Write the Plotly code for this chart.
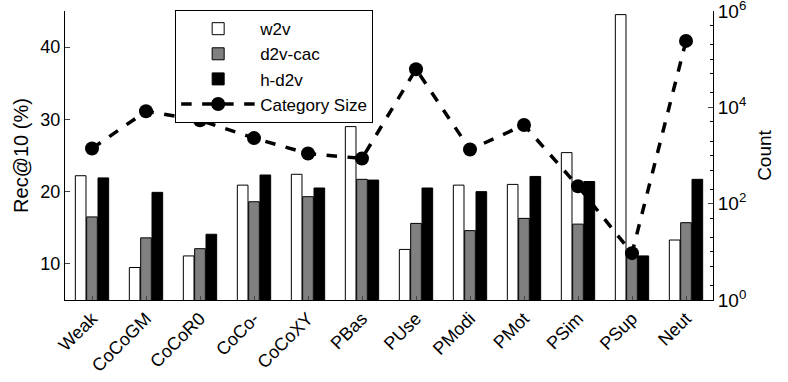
import plotly.graph_objects as go

categories = ['Weak', 'CoCoGM', 'CoCoR0', 'CoCo-', 'CoCoXY', 'PBas',
              'PUse', 'PModi', 'PMot', 'PSim', 'PSup', 'Neut']
w2v = [22.2, 9.5, 11.1, 20.9, 22.4, 29.0, 12.0, 20.9, 21.0, 25.4, 44.5, 13.3]
d2v_cac = [16.5, 13.6, 12.1, 18.6, 19.3, 21.7, 15.6, 14.6, 16.3, 15.5, 11.3, 15.7]
h_d2v = [21.9, 19.9, 14.1, 22.3, 20.5, 21.6, 20.5, 20.0, 22.1, 21.4, 11.1, 21.7]
category_size = [1400, 8300, 5400, 2300, 1100, 870, 62000, 1330, 4300, 230, 9.4, 240000]

x = list(range(1, len(categories) + 1))
font = 'Liberation Sans, Arial, sans-serif'

fig = go.Figure()
fig.add_trace(go.Bar(x=x, y=w2v, name='w2v', marker=dict(color='white', line=dict(color='black', width=1))))
fig.add_trace(go.Bar(x=x, y=d2v_cac, name='d2v-cac', marker=dict(color='#808080', line=dict(color='black', width=1))))
fig.add_trace(go.Bar(x=x, y=h_d2v, name='h-d2v', marker=dict(color='black', line=dict(color='black', width=1))))
fig.add_trace(go.Scatter(x=x, y=category_size, name='Category Size', yaxis='y2',
                         mode='lines+markers',
                         line=dict(color='black', width=3.5, dash='dash'),
                         marker=dict(symbol='circle', size=14, color='black')))

fig.update_layout(
    width=788, height=382,
    margin=dict(l=65, r=75, t=11, b=82, autoexpand=False),
    paper_bgcolor='white', plot_bgcolor='white',
    font=dict(family=font, size=18, color='black'),
    barmode='group', bargap=0.37, bargroupgap=0.06,
    showlegend=True,
    legend=dict(x=0.17, y=1.003, xanchor='left', yanchor='top',
                bordercolor='black', borderwidth=1, bgcolor='white',
                font=dict(size=17), itemwidth=74, tracegroupgap=0),
    xaxis=dict(range=[0.5, 12.5], tickvals=x, ticktext=categories, tickangle=-45,
               showline=True, linecolor='black', linewidth=1, automargin=False,
               ticks='inside', ticklen=4, tickfont=dict(size=18), showgrid=False),
    yaxis=dict(range=[5, 45], tickvals=[10, 20, 30, 40], showline=True,
               linecolor='black', linewidth=1, ticks='inside', ticklen=5,
               showgrid=False, zeroline=False, automargin=False,
               title=dict(text='Rec@10 (%)', font=dict(size=20), standoff=6)),
    yaxis2=dict(type='log', range=[0, 6.001], overlaying='y', side='right',
                tickvals=[1, 100, 10000, 1000000],
                ticktext=['10<sup>0</sup>', '10<sup>2</sup>', '10<sup>4</sup>', '10<sup>6</sup>'],
                ticklabeloverflow='allow',
                showline=True, linecolor='black', linewidth=1, ticks='inside', ticklen=5,
                minor=dict(ticks='inside', ticklen=3, tickcolor='black', showgrid=False),
                showgrid=False, tickfont=dict(size=19), automargin=False,
                title=dict(text='Count', font=dict(size=19), standoff=12)),
)

fig.write_html('out.html', config={'displayModeBar': False},
               post_script="document.body.style.margin='0';")
